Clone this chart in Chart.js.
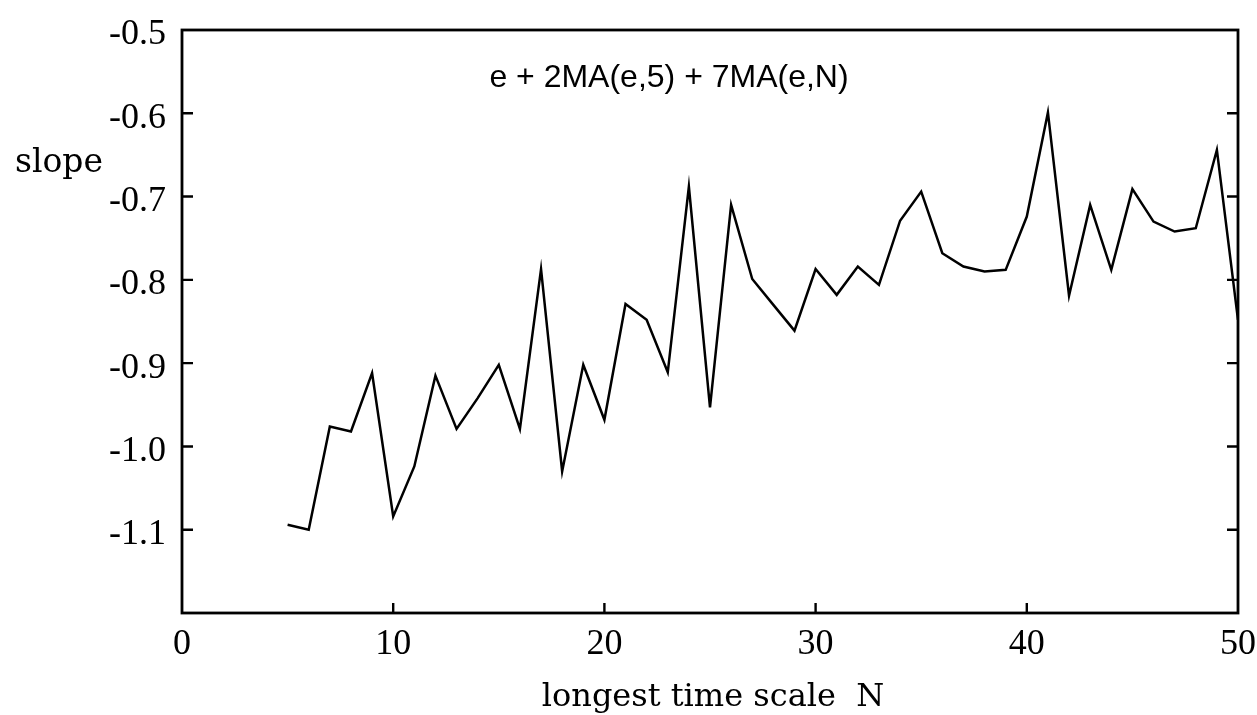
<!DOCTYPE html>
<html>
<head>
<meta charset="utf-8">
<script src="https://cdn.jsdelivr.net/npm/chart.js@4.4.1/dist/chart.umd.min.js"></script>
<style>
html,body{margin:0;padding:0;background:#fff;}
#wrap{width:1257px;height:715px;position:relative;}
</style>
</head>
<body>
<div id="wrap"><canvas id="c"></canvas></div>
<script>
// ---- data ----
const longestN = [5,6,7,8,9,10,11,12,13,14,15,16,17,18,19,20,21,22,23,24,25,26,27,28,29,30,31,32,33,34,35,36,37,38,39,40,41,42,43,44,45,46,47,48,49,50];
const slopeValues = [-1.094,-1.100,-0.976,-0.982,-0.912,-1.084,-1.024,-0.915,-0.979,-0.942,-0.902,-0.979,-0.787,-1.030,-0.902,-0.968,-0.829,-0.848,-0.911,-0.688,-0.953,-0.710,-0.799,-0.830,-0.861,-0.787,-0.818,-0.784,-0.806,-0.729,-0.694,-0.768,-0.784,-0.790,-0.788,-0.724,-0.599,-0.819,-0.710,-0.788,-0.691,-0.730,-0.742,-0.738,-0.644,-0.848];
const xTickValues = [0,10,20,30,40,50];
const yTickValues = [-1.1,-1.0,-0.9,-0.8,-0.7,-0.6,-0.5];
const yTickLabels = ['-1.1','-1.0','-0.9','-0.8','-0.7','-0.6','-0.5'];
const titleText = 'e + 2MA(e,5) + 7MA(e,N)';
const yAxisTitle = 'slope';
const xAxisTitle = 'longest time scale  N';

const points = longestN.map((n,i)=>({x:n,y:slopeValues[i]}));

function zeroPad(s){ s.paddingTop=0; s.paddingBottom=0; s.paddingLeft=0; s.paddingRight=0; }

const framePlugin = {
  id:'frame',
  afterDraw(chart){
    const ctx = chart.ctx, a = chart.chartArea;
    const xs = chart.scales.x, ys = chart.scales.y;
    ctx.save();
    ctx.strokeStyle = '#000';
    ctx.lineWidth = 2.8;
    ctx.strokeRect(a.left, a.top, a.right-a.left, a.bottom-a.top);
    ctx.lineWidth = 2.4;
    ctx.beginPath();
    yTickValues.forEach(v=>{
      const y = ys.getPixelForValue(v);
      if (y <= a.top+1 || y >= a.bottom-1) return;
      ctx.moveTo(a.left, y); ctx.lineTo(a.left+11, y);
      ctx.moveTo(a.right, y); ctx.lineTo(a.right-11, y);
    });
    xTickValues.forEach(v=>{
      const x = xs.getPixelForValue(v);
      if (x <= a.left+1 || x >= a.right-1) return;
      ctx.moveTo(x, a.bottom); ctx.lineTo(x, a.bottom-10);
    });
    ctx.stroke();
    ctx.fillStyle = '#000';
    ctx.textBaseline = 'alphabetic';
    ctx.font = '32px "Liberation Sans", Arial, sans-serif';
    ctx.textAlign = 'center';
    ctx.fillText(titleText, 669, 87);
    ctx.font = '33px "DejaVu Serif", serif';
    ctx.textAlign = 'left';
    ctx.fillText(yAxisTitle, 15, 172);
    ctx.font = '32px "DejaVu Serif", serif';
    ctx.textAlign = 'center';
    ctx.fillText(xAxisTitle, 713, 706);
    ctx.restore();
  }
};

new Chart(document.getElementById('c'), {
  type:'line',
  data:{datasets:[{data:points,borderColor:'#000',borderWidth:2.5,pointRadius:0,tension:0,fill:false,borderJoinStyle:'miter'}]},
  options:{
    responsive:true, maintainAspectRatio:false, animation:false,
    layout:{padding:{left:0,right:19,top:30,bottom:0}},
    plugins:{legend:{display:false},tooltip:{enabled:false},title:{display:false}},
    scales:{
      x:{type:'linear',min:0,max:50,
        afterFit(s){s.height=102; zeroPad(s);},
        afterBuildTicks(s){s.ticks = xTickValues.map(v=>({value:v}));},
        grid:{display:false,drawTicks:false},
        border:{display:false},
        ticks:{color:'#000',padding:10,maxRotation:0,autoSkip:false,
          font:{family:'"Liberation Serif", "Times New Roman", serif',size:36},
          callback:(v)=>String(v)}
      },
      y:{type:'linear',min:-1.2,max:-0.5,
        afterFit(s){s.width=182; zeroPad(s);},
        afterBuildTicks(s){s.ticks = yTickValues.map(v=>({value:v}));},
        grid:{display:false,drawTicks:false},
        border:{display:false},
        ticks:{color:'#000',padding:16,labelOffset:5,autoSkip:false,
          font:{family:'"Liberation Serif", "Times New Roman", serif',size:36},
          callback:(v,i)=>yTickLabels[i]}
      }
    }
  },
  plugins:[framePlugin]
});
</script>
</body>
</html>
